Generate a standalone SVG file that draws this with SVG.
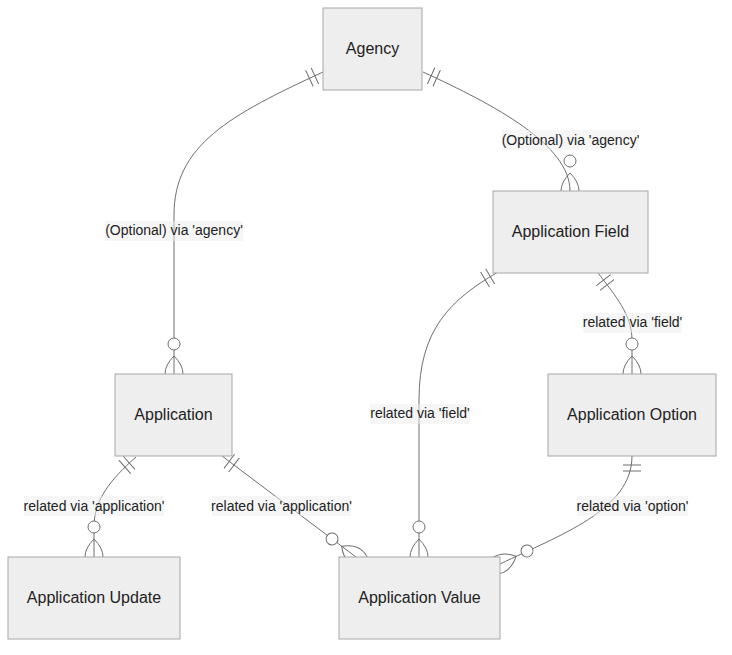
<svg xmlns="http://www.w3.org/2000/svg" width="732" height="655" viewBox="0 0 732 655">
<style>
.edge{fill:none;stroke:#6e6e6e;stroke-width:1}
.mk{fill:none;stroke:#6e6e6e;stroke-width:1}
.lblbg{fill:#eeeeee;opacity:0.5}
.lbl{font-family:"Liberation Sans",Arial,sans-serif;font-size:14px;fill:#222;text-anchor:middle}
.box{fill:#eeeeee;stroke:#a8a8a8;stroke-width:1}
.name{font-family:"Liberation Sans",Arial,sans-serif;font-size:16px;fill:#222;text-anchor:middle}
</style>
<defs>
<marker id="oneStart" markerUnits="userSpaceOnUse" refX="0" refY="9" markerWidth="18" markerHeight="18" orient="auto">
<path class="mk" d="M9,0 L9,18 M15,0 L15,18"/>
</marker>
<marker id="zeroManyEnd" markerUnits="userSpaceOnUse" refX="39" refY="18" markerWidth="57" markerHeight="36" orient="auto">
<circle cx="9" cy="18" r="6" fill="#fff" stroke="#6e6e6e" stroke-width="1"/>
<path class="mk" d="M21,18 Q39,0 57,18 Q39,36 21,18"/>
</marker>
</defs>
<g id="connectors">
<path class="edge" d="M323,72 C230,115 174,145 174,215 L174,374" marker-start="url(#oneStart)" marker-end="url(#zeroManyEnd)"/>
<path class="edge" d="M423,72 C495,105 570,145 570,191" marker-start="url(#oneStart)" marker-end="url(#zeroManyEnd)"/>
<path class="edge" d="M498,272 C450,300 419,330 419,400 L419,557" marker-start="url(#oneStart)" marker-end="url(#zeroManyEnd)"/>
<path class="edge" d="M598,273 C615,295 632,315 632,340 L632,374" marker-start="url(#oneStart)" marker-end="url(#zeroManyEnd)"/>
<path class="edge" d="M136,457 C110,480 94,500 94,527 L94,557" marker-start="url(#oneStart)" marker-end="url(#zeroManyEnd)"/>
<path class="edge" d="M222,456 L356,557" marker-start="url(#oneStart)" marker-end="url(#zeroManyEnd)"/>
<path class="edge" d="M632,456 C632,510 560,535 500,564" marker-start="url(#oneStart)" marker-end="url(#zeroManyEnd)"/>
<g id="labels">
<rect class="lblbg" x="105" y="221" width="138" height="20"/>
<text class="lbl" x="174" y="235">(Optional) via 'agency'</text>
<rect class="lblbg" x="502" y="130" width="137" height="20"/>
<text class="lbl" x="570.5" y="145">(Optional) via 'agency'</text>
<rect class="lblbg" x="370" y="404" width="100" height="20"/>
<text class="lbl" x="420" y="418">related via 'field'</text>
<rect class="lblbg" x="583" y="313" width="99" height="20"/>
<text class="lbl" x="632.5" y="327">related via 'field'</text>
<rect class="lblbg" x="24" y="496" width="140" height="20"/>
<text class="lbl" x="94" y="511">related via 'application'</text>
<rect class="lblbg" x="212" y="496" width="139" height="20"/>
<text class="lbl" x="281.5" y="511">related via 'application'</text>
<rect class="lblbg" x="577" y="496" width="111" height="20"/>
<text class="lbl" x="632.5" y="511">related via 'option'</text>
</g>
</g>
<g id="agency"><rect class="box" x="323" y="8" width="99" height="82"/><text class="name" x="372.5" y="54">Agency</text></g>
<g id="application-field"><rect class="box" x="493" y="191" width="155" height="82"/><text class="name" x="570.5" y="237">Application Field</text></g>
<g id="application"><rect class="box" x="115" y="374" width="117" height="82"/><text class="name" x="173.5" y="420">Application</text></g>
<g id="application-option"><rect class="box" x="548" y="374" width="168" height="82"/><text class="name" x="632" y="420">Application Option</text></g>
<g id="application-update"><rect class="box" x="8" y="557" width="172" height="82"/><text class="name" x="94" y="603">Application Update</text></g>
<g id="application-value"><rect class="box" x="339" y="557" width="161" height="82"/><text class="name" x="419.5" y="603">Application Value</text></g>
</svg>
